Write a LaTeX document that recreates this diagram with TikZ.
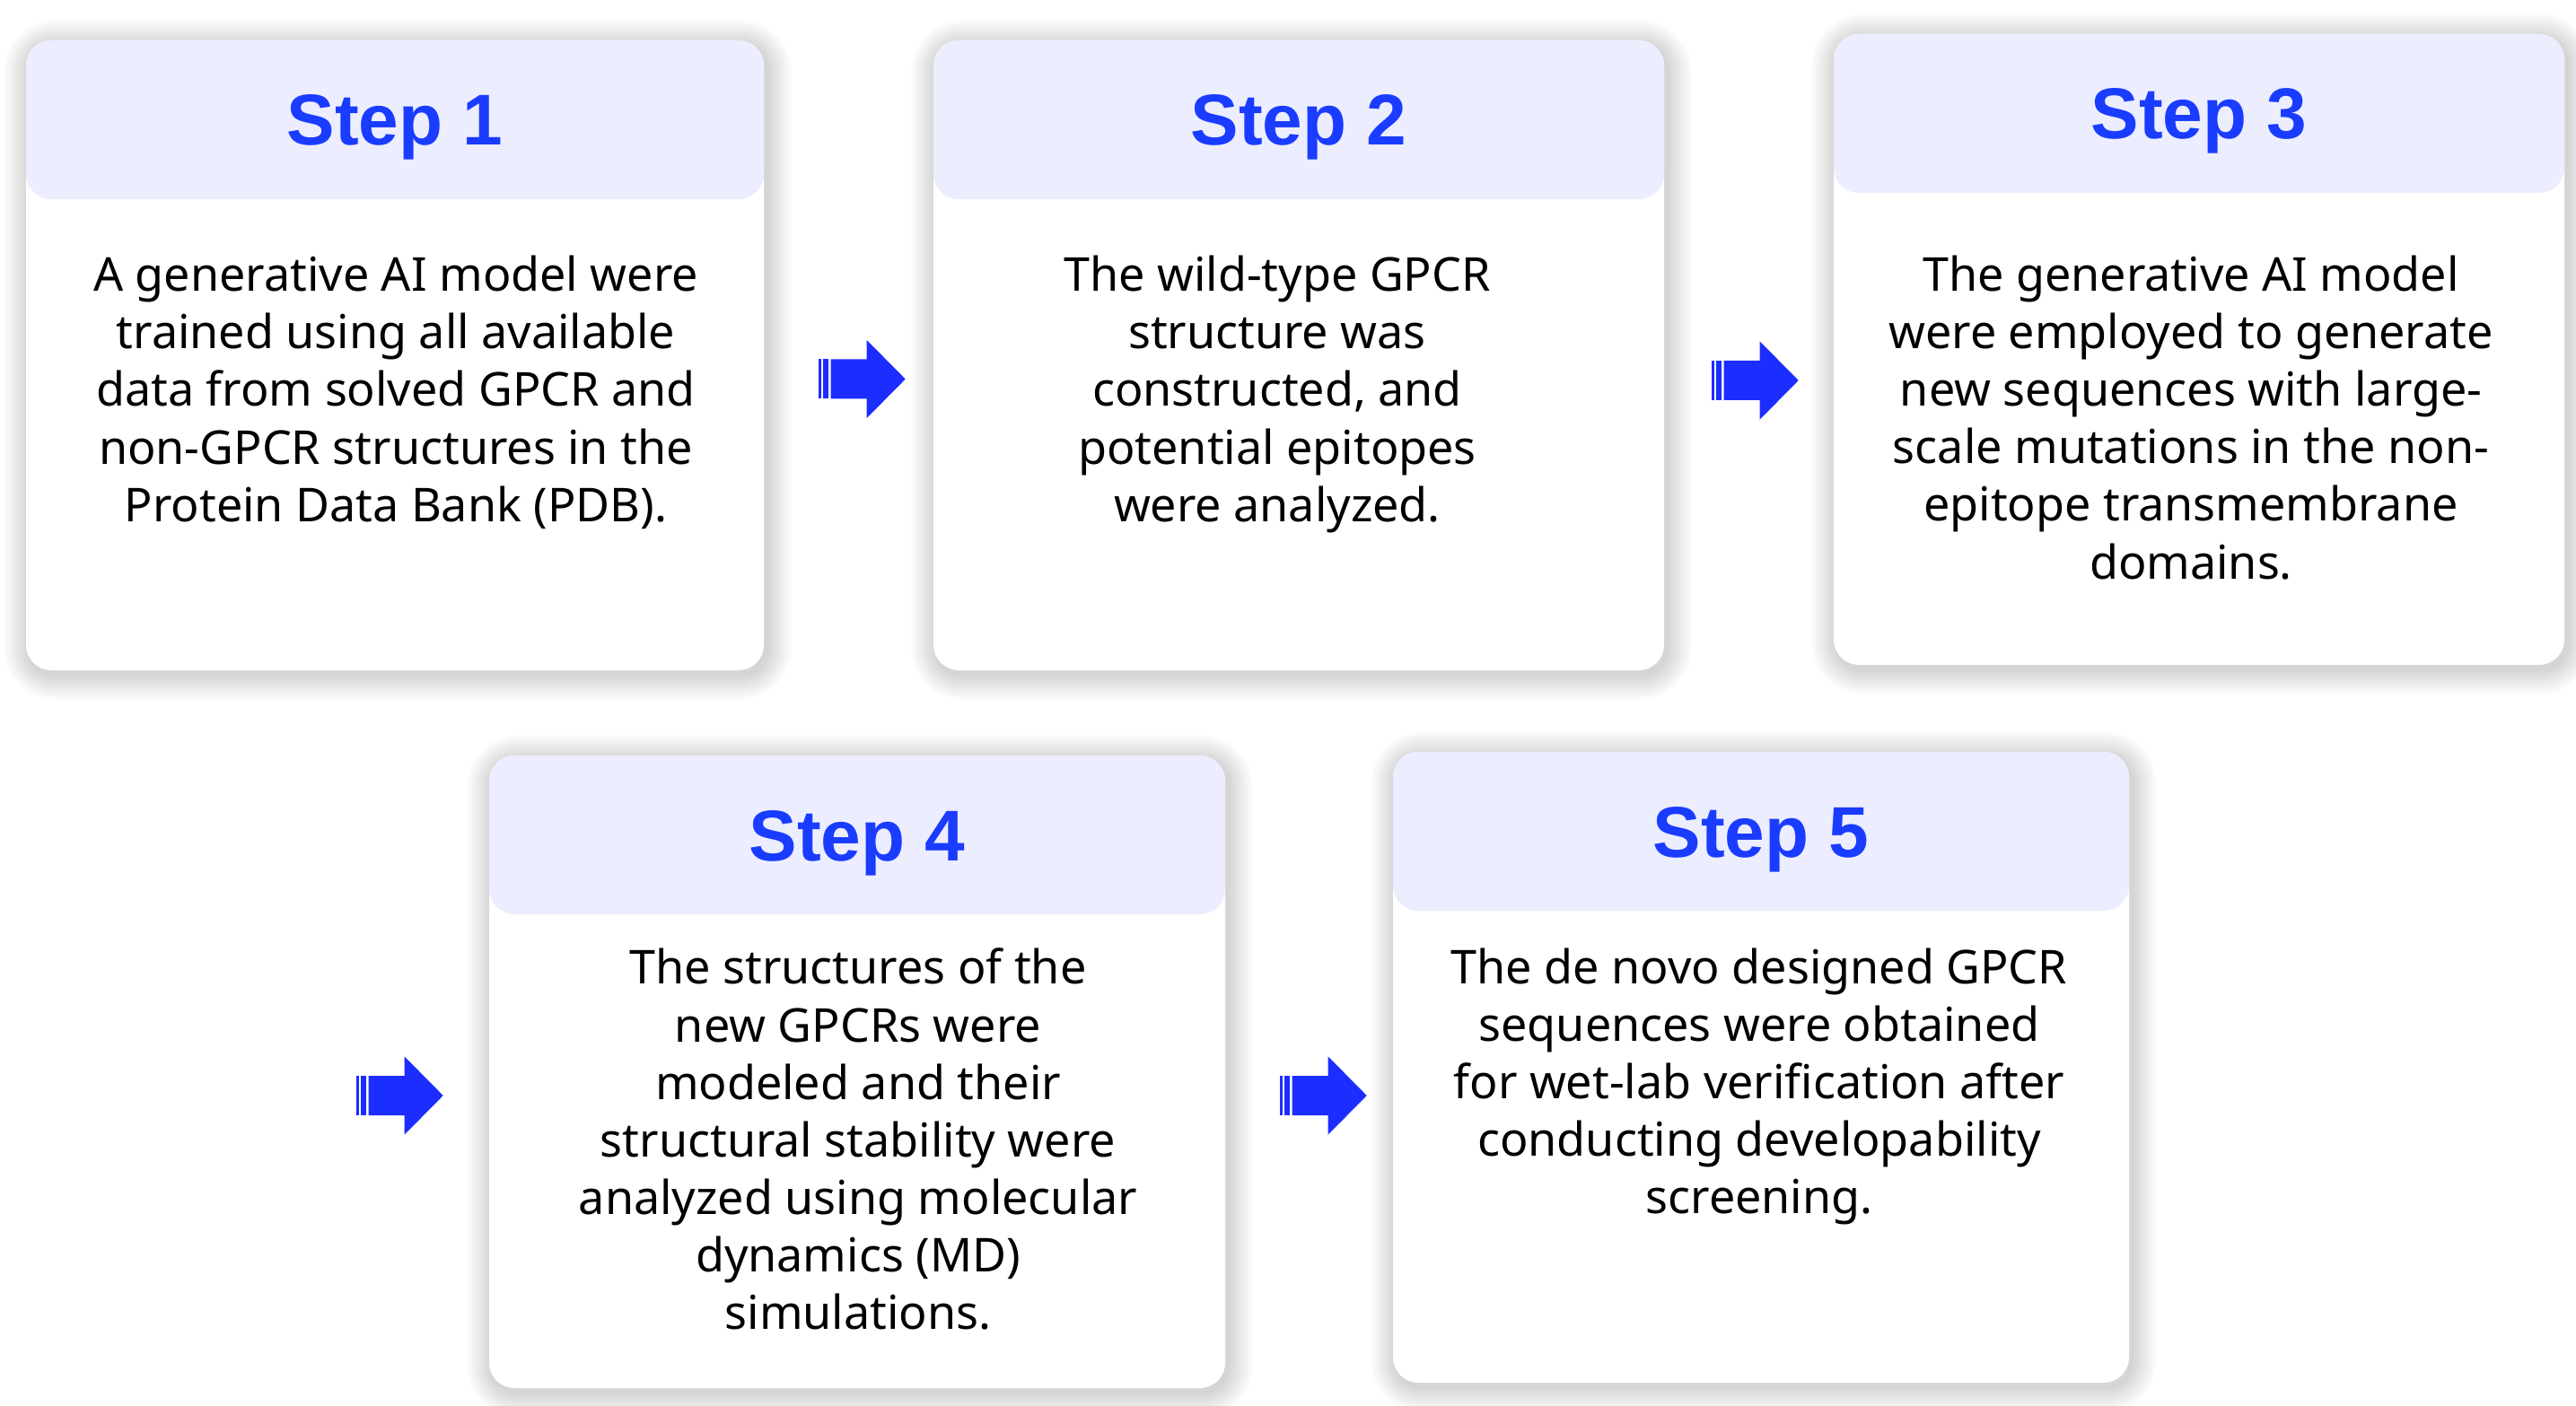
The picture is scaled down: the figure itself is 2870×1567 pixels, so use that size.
\documentclass[tikz,border=0pt]{standalone}
\usepackage{fontspec}
\setmainfont{Noto Sans}
\newfontfamily\titlefont{Liberation Sans}

\definecolor{stepblue}{HTML}{1A3CFF}
\definecolor{arrowblue}{HTML}{1C2DFF}
\definecolor{headfill}{HTML}{ECEDFF}

\tikzset{
  x=0.01cm, y=-0.01cm,
  % anchored at the baseline of the last line
  bodytext/.style={font=\fontsize{14.8}{18.2}\selectfont, align=center,
    anchor=base, inner sep=0pt, text=black},
  titletext/.style={font=\titlefont\bfseries\fontsize{22.8}{27}\selectfont,
    text=stepblue, anchor=base, inner sep=0pt},
  cardcorner/.style={rounded corners=8pt}
}

% card: #1 left, #2 top, #3 right, #4 bottom
\newcommand\stepcard[4]{%
  % soft shadow built from stacked translucent layers
  \foreach \i in {1,...,14}{
    \fill[black, opacity=0.013, rounded corners={8pt+\i*0.6pt}]
      ({#1-\i*2+3},{#2-\i*2+5}) rectangle ({#3+\i*2+3},{#4+\i*2+5});
  }
  \fill[white, cardcorner] (#1,#2) rectangle (#3,#4);
  \fill[headfill, cardcorner] (#1,#2) rectangle (#3,{#2+177});
}

% block arrow with two thin bars at its tail, placed at its left end
\newcommand\flowarrow[2]{%
  \begin{scope}[shift={(#1,#2)}]
    \fill[arrowblue] (0,-22) rectangle (3,22);
    \fill[arrowblue] (5,-22) rectangle (11,22);
    \fill[arrowblue] (13.7,-22) -- (53.7,-22) -- (53.7,-43.5) -- (96.7,0)
      -- (53.7,43.5) -- (53.7,22) -- (13.7,22) -- cycle;
  \end{scope}
}

\begin{document}
\begin{tikzpicture}
\useasboundingbox (0,0) rectangle (2870,1567);
\fill[white] (0,0) rectangle (2870,1567);

% cards
\stepcard{29}{45}{851}{747}
\stepcard{1040}{45}{1854}{747}
\stepcard{2043}{38}{2857}{741}
\stepcard{545}{842}{1365}{1547}
\stepcard{1552}{838}{2372}{1541}

% titles
\node[titletext] (t1) at (440,162) {Step 1};
\node[titletext] (t2) at (1447,162) {Step 2};
\node[titletext] (t3) at (2450,155) {Step 3};
\node[titletext] (t4) at (955,959) {Step 4};
\node[titletext] (t5) at (1962,955) {Step 5};

% descriptions
\node[bodytext] (b1) at (441,581) {A generative AI model were\\trained using all available\\data from solved GPCR and\\non-GPCR structures in the\\Protein Data Bank (PDB).};
\node[bodytext] (b2) at (1423,581) {The wild-type GPCR\\structure was\\constructed, and\\potential epitopes\\were analyzed.};
\node[bodytext] (b3) at (2441,645) {The generative AI model\\were employed to generate\\new sequences with large-\\scale mutations in the non-\\epitope transmembrane\\domains.};
\node[bodytext] (b4) at (956,1481) {The structures of the\\new GPCRs were\\modeled and their\\structural stability were\\analyzed using molecular\\dynamics (MD)\\simulations.};
\node[bodytext] (b5) at (1960,1352) {The de novo designed GPCR\\sequences were obtained\\for wet-lab verification after\\conducting developability\\screening.};

% arrows between steps
\flowarrow{912}{422.5}
\flowarrow{1907}{424}
\flowarrow{397}{1221}
\flowarrow{1426}{1221}
\end{tikzpicture}
\end{document}
